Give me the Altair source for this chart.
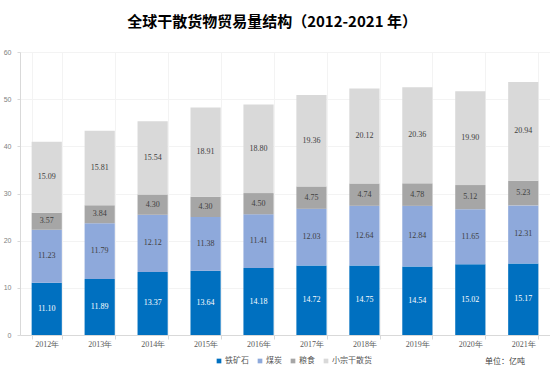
import altair as alt
import pandas as pd

years = ["2012年", "2013年", "2014年", "2015年", "2016年", "2017年", "2018年", "2019年", "2020年", "2021年"]
categories = ["铁矿石", "煤炭", "粮食", "小宗干散货"]
iron_ore = [11.10, 11.89, 13.37, 13.64, 14.18, 14.72, 14.75, 14.54, 15.02, 15.17]
coal = [11.23, 11.79, 12.12, 11.38, 11.41, 12.03, 12.64, 12.84, 11.65, 12.31]
grain = [3.57, 3.84, 4.30, 4.30, 4.50, 4.75, 4.74, 4.78, 5.12, 5.23]
minor = [15.09, 15.81, 15.54, 18.91, 18.80, 19.36, 20.12, 20.36, 19.90, 20.94]
colors = ["#0070C0", "#8EA9DB", "#A6A6A6", "#D9D9D9"]
label_colors = ["#FFFFFF", "#404040", "#404040", "#404040"]

rows = []
for series_idx, (name, vals) in enumerate(zip(categories, [iron_ore, coal, grain, minor])):
    for y, v in zip(years, vals):
        rows.append({"year": y, "cat": name, "value": v, "order": series_idx,
                     "label": f"{v:.2f}"})
df = pd.DataFrame(rows)

base = alt.Chart(df).transform_stack(
    stack="value", groupby=["year"], sort=[alt.SortField("order")], as_=["y0", "y1"]
).transform_calculate(mid="(datum.y0 + datum.y1) / 2")

x_enc = alt.X("year:N", sort=years, title=None,
              scale=alt.Scale(paddingInner=0.43, paddingOuter=0.22),
              axis=alt.Axis(labelAngle=0, labelFont="Liberation Serif", labelFontSize=8,
                            labelColor="#595959", domainColor="#D9D9D9", tickColor="#D9D9D9",
                            tickBand="extent", tickSize=4, grid=True, gridColor="#F3F3F3",
                            labelPadding=1))

bars = base.mark_bar().encode(
    x=x_enc,
    y=alt.Y("y0:Q", title=None,
            scale=alt.Scale(domain=[0, 60]),
            axis=alt.Axis(values=[0, 10, 20, 30, 40, 50, 60], labelFont="Liberation Sans",
                          labelFontSize=7, labelColor="#7F7F7F", domainColor="#D9D9D9",
                          tickColor="#D9D9D9", tickSize=3, grid=True, gridColor="#F3F3F3",
                          labelPadding=6)),
    y2="y1:Q",
    color=alt.Color("cat:N", sort=categories,
                    scale=alt.Scale(domain=categories, range=colors),
                    legend=alt.Legend(title=None, orient="none", direction="horizontal",
                                      legendX=195, legendY=305, symbolType="square",
                                      symbolSize=22, symbolStrokeWidth=0, labelFontSize=8,
                                      labelColor="#595959", labelFont="Noto Sans CJK SC",
                                      columnPadding=7, labelOffset=2)),
)

labels = base.mark_text(font="Liberation Serif", fontSize=8).encode(
    x=alt.X("year:N", sort=years),
    y=alt.Y("mid:Q"),
    text="label:N",
    color=alt.Color("cat:N", sort=categories,
                    scale=alt.Scale(domain=categories, range=label_colors), legend=None),
)

unit = alt.Chart(pd.DataFrame({"t": ["单位：亿吨"]})).mark_text(
    font="Noto Sans CJK SC", fontSize=8, color="#404040", align="left"
).encode(x=alt.value(465), y=alt.value(310), text="t:N")

chart = alt.layer(bars, labels, unit).resolve_scale(color="independent").properties(
    width=530, height=283,
    padding={"left": 20, "top": 52, "right": 0, "bottom": 40},
    autosize=alt.AutoSizeParams(type="none"),
    title=alt.TitleParams("全球干散货物贸易量结构（2012-2021 年）", font="Noto Sans CJK SC",
                          fontSize=15, fontWeight="bold", color="#000000", dx=-13, offset=18),
).configure_view(stroke=None)

chart.save("out.html", embed_options={"renderer": "svg", "actions": False})
